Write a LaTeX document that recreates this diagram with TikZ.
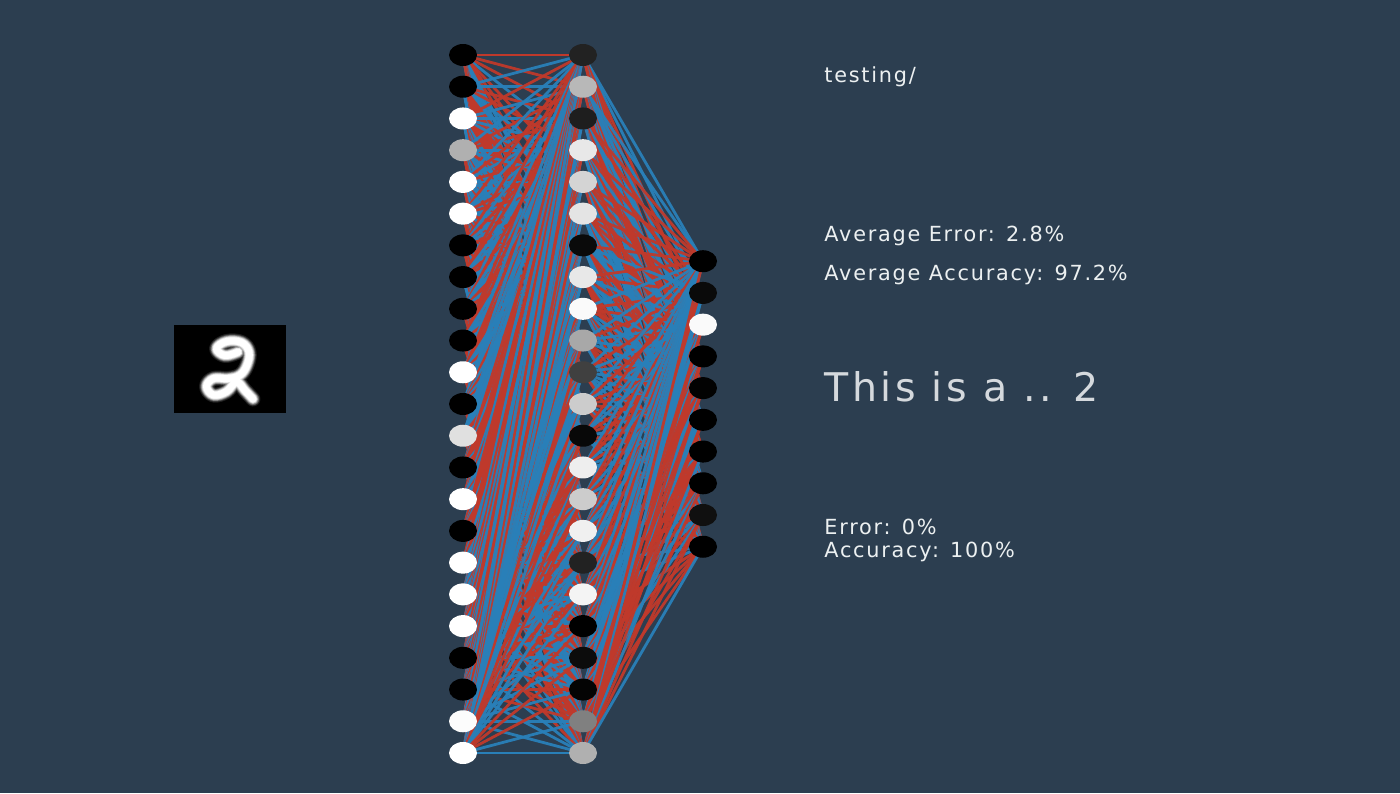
\documentclass[tikz,border=0pt]{standalone}
\usepackage{fontspec}
\setmainfont{DejaVu Sans}
\newfontfamily\labfont{DejaVu Sans}[LetterSpace=8.5]
\newfontfamily\bigfont{DejaVu Sans}[LetterSpace=9]
\usetikzlibrary{shapes.geometric}
\definecolor{bg}{HTML}{2C3E50}
\definecolor{edgered}{HTML}{C0392B}
\definecolor{edgeblue}{HTML}{2980B9}
\definecolor{txt}{HTML}{ECF0F1}
\definecolor{bigtxt}{HTML}{D5D9DD}
\pgfdeclarelayer{bglayer}
\pgfdeclarelayer{edgelayer}
\pgfsetlayers{bglayer,edgelayer,main}
\begin{document}
\begin{tikzpicture}[x=0.5pt,y=-0.5pt,
  neuron/.style={ellipse, minimum width=14pt, minimum height=11pt, inner sep=0pt, draw=none},
  edge/.style={line width=1.4pt, opacity=0.95},
  infotext/.style={anchor=base west, inner sep=0pt, text=txt, font=\labfont\fontsize{10.4}{12}\selectfont},
  bigtext/.style={anchor=base west, inner sep=0pt, text=bigtxt, font=\bigfont\fontsize{19.75}{22}\selectfont},
]
\begin{pgfonlayer}{bglayer}
\fill[bg] (0,0) rectangle (1400,793);
\end{pgfonlayer}
\useasboundingbox (0,0) rectangle (1400,793);

% input layer
\foreach \g [count=\i] in {0,0,255,176,255,255,0,0,0,0,255,0,224,0,255,0,255,255,255,0,0,252,255}{
  \node[neuron, fill={rgb,255:red,\g;green,\g;blue,\g}] (l\i) at (463,{55+(\i-1)*31.727}) {};
}
% hidden layer
\foreach \g [count=\i] in {34,184,30,232,212,228,10,232,250,168,64,204,8,238,204,240,34,244,0,12,4,128,176}{
  \node[neuron, fill={rgb,255:red,\g;green,\g;blue,\g}] (m\i) at (583,{55+(\i-1)*31.727}) {};
}
% output layer
\foreach \g [count=\i] in {0,10,250,0,2,0,0,0,16,0}{
  \node[neuron, fill={rgb,255:red,\g;green,\g;blue,\g}] (o\i) at (703,{261.2+(\i-1)*31.727}) {};
}

\pgfmathsetseed{4242}
\begin{pgfonlayer}{edgelayer}
\foreach \i in {1,...,23}{
  \foreach \j in {1,...,23}{
    \pgfmathrandominteger{\r}{0}{9}
    \ifnum\r<5 \def\ec{edgered}\else\def\ec{edgeblue}\fi
    \draw[edge,draw=\ec] (l\i.center) -- (m\j.center);
  }
}
\draw[edge,draw=edgered] (l1.center) -- (m1.center);
\draw[edge,draw=edgeblue] (l23.center) -- (m23.center);
\foreach \i in {1,...,23}{
  \foreach \j in {1,...,10}{
    \pgfmathrandominteger{\r}{0}{9}
    \ifnum\r<5 \def\ec{edgered}\else\def\ec{edgeblue}\fi
    \draw[edge,draw=\ec] (m\i.center) -- (o\j.center);
  }
}
\end{pgfonlayer}

% digit image
\fill[black] (174,325) rectangle (286,413);
\begin{scope}
\clip (174,325) rectangle (286,413);
\foreach \w/\c in {15/white!12!black,13/white!28!black,11.5/white!50!black,10/white!72!black,8.5/white!90!black,7/white}{
\draw[line width=\w*0.5pt, draw=\c, line cap=round, line join=round]
  plot[smooth, tension=0.65] coordinates {(238,352) (225,355.5) (216.5,348.5) (226.5,341.5) (241.5,342.5) (249,352) (247,365) (240,375) (228,378.5) (213.5,378.5) (206.5,386.5) (213.5,395) (226.5,391.5) (236.5,382) (245,390.5) (253,399)};
}
\end{scope}

% texts
\node[infotext] (t1) at (824,82) {testing/};
\node[infotext] (t2) at (824,241.5) {Average Error: 2.8\%};
\node[infotext] (t3) at (824,280) {Average Accuracy: 97.2\%};
\node[bigtext] (t4) at (824,401.5) {This is a .. 2};
\node[infotext] (t5) at (824,534) {Error: 0\%};
\node[infotext] (t6) at (824,557.5) {Accuracy: 100\%};
\end{tikzpicture}
\end{document}
